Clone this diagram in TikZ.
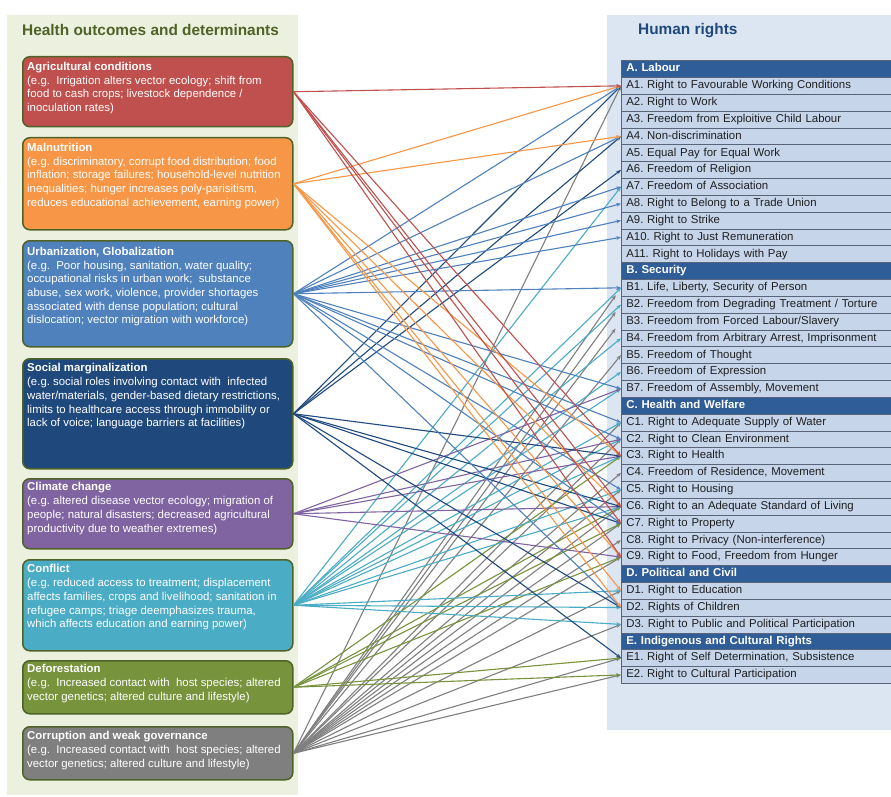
\documentclass[tikz,border=0pt]{standalone}
\usepackage{fontspec}
\setmainfont{Liberation Sans}
\frenchspacing
\usetikzlibrary{arrows.meta}
\definecolor{cRed}{HTML}{C0504D}
\definecolor{cOrange}{HTML}{F79646}
\definecolor{cBlue}{HTML}{4F81BD}
\definecolor{cNavy}{HTML}{1F497D}
\definecolor{cPurple}{HTML}{8064A2}
\definecolor{cTeal}{HTML}{4BACC6}
\definecolor{cGreen}{HTML}{77933C}
\definecolor{cGray}{HTML}{7F7F7F}
\definecolor{leftBg}{HTML}{EBF1DE}
\definecolor{rightBg}{HTML}{DCE6F2}
\definecolor{titleGreen}{HTML}{4F6228}
\definecolor{titleBlue}{HTML}{1F497D}
\definecolor{boxBorder}{HTML}{4F6228}
\definecolor{rowFill}{HTML}{C6D5EA}
\definecolor{rowLine}{HTML}{5A6478}
\definecolor{hdrFill}{HTML}{2F5D97}
\begin{document}
\begin{tikzpicture}[x=1pt,y=-1pt,
  dbox/.style={draw=boxBorder, line width=1.5pt, rounded corners=7pt, minimum width=270pt, inner sep=0pt, anchor=north west},
  btext/.style={text=white, align=left, inner sep=0pt, anchor=north west, font=\fontsize{11.4}{13.7}\selectfont},
  row/.style={draw=rowLine, line width=0.6pt, fill=rowFill, minimum width=272pt, minimum height=16.83pt, anchor=west, inner xsep=5pt, inner ysep=0pt, text width=262pt, align=left, text height=8pt, text depth=2.2pt, font=\fontsize{11.4}{12}\selectfont, text={black!88}},
  hdr/.style={row, fill=hdrFill, text=white, font=\bfseries\fontsize{11.4}{12}\selectfont},
  edge/.style={line width=1.1pt, -{Stealth[length=4.8pt,width=3.8pt]}}
]
\useasboundingbox (0,0) rectangle (891,797);
\fill[white] (0,0) rectangle (891,797);
\fill[leftBg] (7,15) rectangle (298,795);
\fill[rightBg] (607,15) rectangle (893,730);

\node[anchor=west, inner sep=0pt, text=titleGreen, font=\bfseries\fontsize{15.4}{18}\selectfont] (ltitle) at (22,30) {Health outcomes and determinants};
\node[anchor=west, inner sep=0pt, text=titleBlue, font=\bfseries\fontsize{15.4}{18}\selectfont] (rtitle) at (638,31) {Human rights};

% left boxes
\node[dbox, fill=cRed, minimum height=70pt] (agri) at (22,56) {};
\node[dbox, fill=cOrange, minimum height=92pt] (maln) at (22,137) {};
\node[dbox, fill=cBlue, minimum height=106pt] (urban) at (22,240) {};
\node[dbox, fill=cNavy, minimum height=110pt] (social) at (22,358) {};
\node[dbox, fill=cPurple, minimum height=70pt] (climate) at (22,478) {};
\node[dbox, fill=cTeal, minimum height=91pt] (conflict) at (22,559) {};
\node[dbox, fill=cGreen, minimum height=53pt] (defor) at (22,660) {};
\node[dbox, fill=cGray, minimum height=53pt] (corr) at (22,726) {};

\node[btext] (agriT) at (27,62) {\textbf{Agricultural conditions}\\(e.g.\ \ Irrigation alters vector ecology; shift from\\food to cash crops; livestock dependence /\\inoculation rates)};
\node[btext] (malnT) at (27,143) {\textbf{Malnutrition}\\(e.g. discriminatory, corrupt food distribution; food\\inflation; storage failures; household-level nutrition\\inequalities; hunger increases poly-parisitism,\\reduces educational achievement, earning power)};
\node[btext] (urbanT) at (27,247) {\textbf{Urbanization, Globalization}\\(e.g.\ \ Poor housing, sanitation, water quality;\\occupational risks in urban work;\ \ substance\\abuse, sex work, violence, provider shortages\\associated with dense population; cultural\\dislocation; vector migration with workforce)};
\node[btext] (socialT) at (27,363.5) {\textbf{Social marginalization}\\(e.g. social roles involving contact with\ \ infected\\water/materials, gender-based dietary restrictions,\\limits to healthcare access through immobility or\\lack of voice; language barriers at facilities)};
\node[btext] (climateT) at (27,482.5) {\textbf{Climate change}\\(e.g. altered disease vector ecology; migration of\\people; natural disasters; decreased agricultural\\productivity due to weather extremes)};
\node[btext] (conflictT) at (27,564.5) {\textbf{Conflict}\\(e.g. reduced access to treatment; displacement\\affects families, crops and livelihood; sanitation in\\refugee camps; triage deemphasizes trauma,\\which affects education and earning power)};
\node[btext] (deforT) at (27,664.5) {\textbf{Deforestation}\\(e.g.\ \ Increased contact with\ \ host species; altered\\vector genetics; altered culture and lifestyle)};
\node[btext] (corrT) at (27,731.5) {\textbf{Corruption and weak governance}\\(e.g.\ \ Increased contact with\ \ host species; altered\\vector genetics; altered culture and lifestyle)};

% right table
\foreach \nm/\txt/\sty [count=\i from 0] in {
  LA/{A. Labour}/hdr,
  A1/{A1. Right to Favourable Working Conditions}/row,
  A2/{A2. Right to Work}/row,
  A3/{A3. Freedom from Exploitive Child Labour}/row,
  A4/{A4. Non-discrimination}/row,
  A5/{A5. Equal Pay for Equal Work}/row,
  A6/{A6. Freedom of Religion}/row,
  A7/{A7. Freedom of Association}/row,
  A8/{A8. Right to Belong to a Trade Union}/row,
  A9/{A9. Right to Strike}/row,
  A10/{A10. Right to Just Remuneration}/row,
  A11/{A11. Right to Holidays with Pay}/row,
  LB/{B. Security}/hdr,
  B1/{B1. Life, Liberty, Security of Person}/row,
  B2/{B2. Freedom from Degrading Treatment / Torture}/row,
  B3/{B3. Freedom from Forced Labour/Slavery}/row,
  B4/{B4. Freedom from Arbitrary Arrest, Imprisonment}/row,
  B5/{B5. Freedom of Thought}/row,
  B6/{B6. Freedom of Expression}/row,
  B7/{B7. Freedom of Assembly, Movement}/row,
  LC/{C. Health and Welfare}/hdr,
  C1/{C1. Right to Adequate Supply of Water}/row,
  C2/{C2. Right to Clean Environment}/row,
  C3/{C3. Right to Health}/row,
  C4/{C4. Freedom of Residence, Movement}/row,
  C5/{C5. Right to Housing}/row,
  C6/{C6. Right to an Adequate Standard of Living}/row,
  C7/{C7. Right to Property}/row,
  C8/{C8. Right to Privacy (Non-interference)}/row,
  C9/{C9. Right to Food, Freedom from Hunger}/row,
  LD/{D. Political and Civil}/hdr,
  D1/{D1. Right to Education}/row,
  D2/{D2. Rights of Children}/row,
  D3/{D3. Right to Public and Political Participation}/row,
  LE/{E. Indigenous and Cultural Rights}/hdr,
  E1/{E1. Right of Self Determination, Subsistence}/row,
  E2/{E2. Right to Cultural Participation}/row}
{
  \node[\sty] (\nm) at (621,{69+16.83*\i}) {\txt};
}

% connectors
\foreach \t in {B1,B2,B3}
  \draw[edge, cGray, shorten >=9pt] (corr.east) -- (\t.west);
\foreach \t in {A1,B5,C1,C2,C4,C5,C6,C7,C8,C9,D1,D3,E1,E2}
  \draw[edge, cGray] (corr.east) -- (\t.west);
\foreach \t in {C3,C6,C7,C9,E1,E2}
  \draw[edge, cGreen] (defor.east) -- (\t.west);
\foreach \t in {A7,B1,B2,B4,B6,B7,C1,C2,C3,C5,C6,D1,D2,D3}
  \draw[edge, cTeal] (conflict.east) -- (\t.west);
\foreach \t in {B7,C2,C3,C6,C9}
  \draw[edge, cPurple] (climate.east) -- (\t.west);
\foreach \t in {A1,A4,A6,C3,C6,C7,D2,E1}
  \draw[edge, cNavy] (social.east) -- (\t.west);
\foreach \t in {A1,A4,A7,A8,A9,A10,B1,B7,C1,C2,C5,C7,D2}
  \draw[edge, cBlue] (urban.east) -- (\t.west);
\foreach \t in {A1,A4,C3,C6,C9,D1,D2}
  \draw[edge, cOrange] (maln.east) -- (\t.west);
\foreach \t in {A1,C3,C6,C7,C9}
  \draw[edge, cRed] (agri.east) -- (\t.west);
\end{tikzpicture}
\end{document}
